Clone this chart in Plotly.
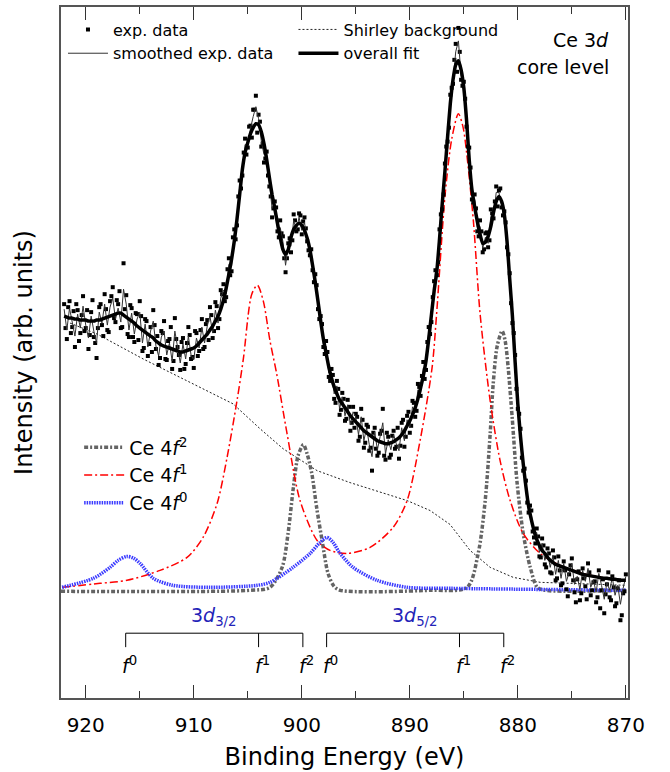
import numpy as np
import plotly.graph_objects as go

# ---------------- data (binding energy in eV, intensity in arb. units) ----------------
fit_y = [383,382,381,381,380,380,379,379,379,378,378,378,379,379,380,381,382,383,384,385,386,386,384,382,380,378,376,373,371,369,367,365,363,361,358,356,354,353,352,351,350,349,348,347,347,348,349,350,351,353,356,359,362,365,369,373,378,383,390,399,411,
         425,440,458,480,505,530,547,557,566,572,576,575,568,556,540,522,505,491,476,462,450,445,450,462,470,474,476,474,469,461,450,434,417,398,378,360,346,332,321,312,305,299,295,291,287,283,280,277,274,271,268,266,264,262,260,258,257,256,255,255,256,257,259,261,264,268,273,278,284,291,300,311,323,338,360,384,408,428,460,495,528,563,596,620,635,639,630,612,580,540,510,493,478,465,456,457,463,473,487,498,503,498,485,458,420,383,337,295,262,235,212,192,179,168,159,153,148,145,141,138,136,134,133,132,131,130,129,128,127,126,125,124,123.5,123,122.5,122,121.5,121,120.5,120,120,119.5,119,119,118.5,118,118,118]

# experimental points, scan A (922.0 ... 870.0 eV, 0.25 eV steps)
exp_a = [395,360,398,372,352,389,366,403,371,350,387,362,341,392,374,405,369,398,412,377,395,371,436,404,362,391,357,385,398,348,380,343,372,389,350,334,368,378,339,360,330,381,352,329,361,335,372,340,331,366,348,380,352,379,392,361,397,371,409,415,402,
         441,428,470,474, 519,524,561,552, 574,590,604,585, 553,537,548,513, 482,498,468,479, 463,427,456,447, 485,468,486,465, 482,458,444,429, 425,390,383,352, 358,322,330,300,
         318,284,306,278, 299,268,292,285, 258,290,251,274, 248,228,271,243, 265,290,239,262, 244,268,252,240, 276,252,283,266, 298,282,315,303, 337,329,372,377, 418,424,470,490,
         536,558,605,616, 656,672,620,618, 573,552,500,505, 468,479,447,466, 452,490,481,513, 509,492,488,452, 426,376,344,290, 270,228,218,186, 188,161,170,142, 160,134,150,126,
         148,118,142,113, 137,109,124,140, 106,119,98,130, 112,135,103,116, 96,128,108,85, 114,101,122,92, 110,78,105,124]

# experimental points, scan B (921.875 ... 870.125 eV, 0.25 eV steps)
exp_b = [371,392,366,388, 395,358,384,368, 389,364,399,356, 371,395,363,390, 367,403,381,399, 408,372,390,365, 394,362,386,359, 383,351,378,355,
         347,374,363,341, 366,340,358,372, 338,360,344,357, 330,356,364,342, 368,343,369,350, 375,359,384,368, 393,380,405,398,
         430,424,462,460, 503,511,547,545, 573,562,590,567, 578,556,541,524, 503,491,492,462, 466,441,441,461, 459,479,470,484, 478,471,449,450,
         417,414,380,375, 345,347,318,324, 296,310,289,300, 280,292,276,271, 282,262,279,256, 272,251,266,250, 246,268,243,266, 241,263,250,271,
         253,279,262,287, 273,296,288,312, 323,320,357,365, 402,429,437,485, 505,553,572,612, 640,628,648,614, 601,553,532,497, 491,463,468,450,
         467,459,486,498, 493,511,484,477, 445,396,366,310, 285,241,230,196, 193,167,155,162, 141,153,131,145, 125,141,120,128, 115,128,102,133,
         118,96,127,105, 120,99,126,108, 117,101,90,119, 104,126,98,111, 95,118,83,107]

smooth_y = [390,369,391,376,363,385,371,393,374,361,383,368,356,387,376,395,374,392,401,380,391,377,410,395,369,386,365,380,387,356,375,352,368,378,353,343,362,368,344,356,338,368,350,336,355,340,363,344,339,361,351,372,356,373,383,366,389,376,401,409,405,
            435,433,465,476, 513,526,555,554, 571,583,593,581, 559,545,545,517, 491,495,471,472, 458,434,454,453, 479,470,482,469, 477,459,446,431, 422,393,381,355, 353,326,326,305,
            313,290,302,283, 294,274,287,282, 264,282,258,271, 254,242,267,249, 262,276,245,259, 249,264,255,248, 271,258,279,271, 292,286,309,306, 331,333,367,380, 414,426,466,492,
            533,560,601,618, 648,659,624,615, 576,547,504,500, 472,473,451,462, 456,483,483,507, 507,494,487,455, 424,379,341,292, 267,231,216,188, 184,164,166,146, 155,138,146,131,
            143,124,138,120, 135,117,126,135, 114,122,109,128, 117,130,111,118, 106,125,113,99, 116,108,121,103, 113,94,110,122]

energy = 922.0 - 0.25 * np.arange(len(fit_y))
energy_b = 921.875 - 0.25 * np.arange(len(exp_b))
exp_E = np.concatenate([energy, energy_b])
exp_y = exp_a + exp_b

shirley_E = [921.45, 918.95, 914.68, 910.05, 906.36, 903.86, 901.73, 900.16, 898.58, 895.53, 892.47, 890.25, 888.12, 886.27, 884.42, 882.56, 880.43, 877.93, 875.15, 869.97]
shirley_y = [376, 365, 340, 315, 295, 270, 250, 239, 228, 216, 206, 198, 188, 174, 148, 131, 121, 116, 115, 113]

f1_E = [922.19, 918.68, 916.18, 913.12, 910.62, 909.14, 907.84, 906.92, 906.0, 905.41, 904.63, 904.11, 903.56, 902.94, 902.32, 901.36, 900.16, 898.58, 897.38, 895.81, 893.68, 891.55, 890.25, 889.05, 887.94, 887.52, 886.73, 886.11, 885.5, 885.06, 884.72, 884.11, 883.49, 882.56, 881.64, 880.71, 879.5, 877.93, 876.08, 873.3, 870.06]
f1_y = [111, 115, 118, 128, 141, 161, 195, 241, 298, 340, 405, 414, 398, 358, 325, 265, 198, 158, 148, 145, 151, 171, 198, 258, 331, 385, 505, 561, 586, 572, 545, 478, 385, 298, 238, 198, 165, 145, 133, 123, 118]

f2_E = [922.29, 904.79, 902.94, 901.82, 901.27, 900.78, 900.34, 899.85, 899.51, 899.07, 898.61, 898.12, 897.57, 897.01, 896.45, 888.12, 884.69, 883.67, 883.02, 882.56, 882.28, 881.91, 881.45, 881.17, 880.89, 880.52, 880.06, 879.5, 878.85, 878.2, 877.46, 869.97]
f2_y = [107, 108, 111, 131, 165, 211, 243, 254, 245, 225, 190, 158, 125, 112, 108, 108, 111, 145, 198, 265, 315, 353, 368, 358, 331, 281, 215, 165, 131, 111, 108, 108]

f0_E = [922.19, 919.3, 917.75, 917.0, 916.2, 915.53, 914.97, 913.74, 911.92, 908.49, 904.14, 902.94, 900.81, 899.23, 898.31, 897.66, 897.11, 896.45, 895.25, 893.03, 890.25, 886.27, 869.97]
f0_y = [111, 120, 131, 138, 142, 140, 135, 120, 113, 111, 113, 116, 131, 145, 156, 161, 156, 145, 131, 118, 111, 110, 108]

# multiplet positions (bracket markers)
d32_E = [916.3, 904.0, 899.9]
d52_E = [897.7, 885.4, 881.3]
f_labels = ["0", "1", "2"]

FONT = "DejaVu Sans"

fig = go.Figure()

fig.add_trace(go.Scatter(x=shirley_E, y=shirley_y, mode="lines", name="Shirley background",
                         line=dict(color="#222222", width=1, dash="2px,2px"),
                         legend="legend2", legendrank=1))
fig.add_trace(go.Scatter(x=f2_E, y=f2_y, mode="lines", name="Ce 4<i>f</i><sup>2</sup>",
                         line=dict(color="#646464", width=3.5, dash="4px,2px,2px,2px", shape="spline", smoothing=0.8),
                         legend="legend3", legendrank=1))
fig.add_trace(go.Scatter(x=f1_E, y=f1_y, mode="lines", name="Ce 4<i>f</i><sup>1</sup>",
                         line=dict(color="#ff0000", width=1.5, dash="8px,3px,2px,3px", shape="spline", smoothing=0.8),
                         legend="legend3", legendrank=2))
fig.add_trace(go.Scatter(x=f0_E, y=f0_y, mode="lines", name="Ce 4<i>f</i><sup>0</sup>",
                         line=dict(color="#3a3aff", width=3.5, dash="1.5px,1px", shape="spline", smoothing=0.8),
                         legend="legend3", legendrank=3))
fig.add_trace(go.Scatter(x=exp_E, y=exp_y, mode="markers", name="exp. data",
                         marker=dict(symbol="square", size=4, color="black"),
                         legend="legend", legendrank=1))
fig.add_trace(go.Scatter(x=energy, y=smooth_y, mode="lines", name="smoothed exp. data",
                         line=dict(color="#333333", width=1),
                         legend="legend", legendrank=2))
fig.add_trace(go.Scatter(x=energy, y=fit_y, mode="lines", name="overall fit",
                         line=dict(color="black", width=3.5, shape="spline", smoothing=0.5),
                         legend="legend2", legendrank=2))

# brackets for the 3d multiplets
shapes = []
annotations = []
for Es, lab, col in [(d32_E, "3<i>d</i><sub>3/2</sub>", "#2323b8"), (d52_E, "3<i>d</i><sub>5/2</sub>", "#2323b8")]:
    shapes.append(dict(type="line", xref="x", yref="y", x0=Es[0], x1=Es[-1], y0=65, y1=65,
                       line=dict(color="black", width=1)))
    for E, fl in zip(Es, f_labels):
        shapes.append(dict(type="line", xref="x", yref="y", x0=E, x1=E, y0=65, y1=51,
                           line=dict(color="black", width=1)))
        annotations.append(dict(x=E, y=33, xref="x", yref="y", text="<i>f</i><sup>" + fl + "</sup>",
                                showarrow=False, xshift=4, font=dict(family=FONT, size=19, color="black")))
    annotations.append(dict(x=(Es[0] + Es[-1]) / 2, y=82, xref="x", yref="y", text=lab, showarrow=False,
                            font=dict(family=FONT, size=19, color=col)))

annotations.append(dict(x=0.970, y=0.952, xref="paper", yref="paper", xanchor="right", yanchor="middle",
                        text="Ce 3<i>d</i>", showarrow=False, font=dict(family=FONT, size=19, color="black")))
annotations.append(dict(x=0.970, y=0.913, xref="paper", yref="paper", xanchor="right", yanchor="middle",
                        text="core level", showarrow=False, font=dict(family=FONT, size=19, color="black")))

fig.update_layout(
    width=670, height=772,
    margin=dict(l=61, r=42, t=5, b=74),
    plot_bgcolor="white", paper_bgcolor="white",
    font=dict(family=FONT, color="black"),
    shapes=shapes, annotations=annotations,
    legend=dict(x=0.0035, y=0.992, xanchor="left", yanchor="top", bgcolor="rgba(0,0,0,0)",
                font=dict(family=FONT, size=16), itemwidth=40, tracegroupgap=0),
    legend2=dict(x=0.41, y=0.992, xanchor="left", yanchor="top", bgcolor="rgba(0,0,0,0)",
                 font=dict(family=FONT, size=16), itemwidth=40, tracegroupgap=0),
    legend3=dict(x=0.032, y=0.39, xanchor="left", yanchor="top", bgcolor="rgba(0,0,0,0)",
                 font=dict(family=FONT, size=19), itemwidth=40, tracegroupgap=0),
    xaxis=dict(range=[922.29, 869.8], tickvals=[920, 910, 900, 890, 880, 870],
               ticks="inside", ticklen=13, tickcolor="#333", tickwidth=1,
               minor=dict(ticks="inside", ticklen=7, tickvals=[915, 905, 895, 885, 875], tickcolor="#333"),
               mirror="ticks", showline=True, linecolor="#555", linewidth=1.5,
               showgrid=False, zeroline=False, ticklabelstandoff=8,
               tickfont=dict(family=FONT, size=20),
               title=dict(text="Binding Energy (eV)", font=dict(family=FONT, size=24), standoff=12)),
    yaxis=dict(range=[0, 693], showticklabels=False, ticks="", showline=True, mirror=True,
               linecolor="#555", linewidth=1.5, showgrid=False, zeroline=False,
               title=dict(text="Intensity (arb. units)", font=dict(family=FONT, size=24), standoff=20)),
)

fig.write_html("out.html")
